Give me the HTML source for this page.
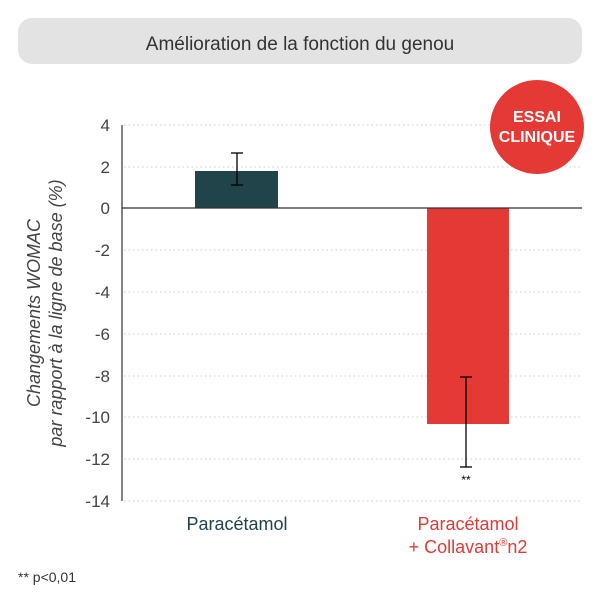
<!DOCTYPE html>
<html><head><meta charset="utf-8"><style>
body{margin:0;width:600px;height:600px;background:#fff;overflow:hidden;font-family:"Liberation Sans","DejaVu Sans",sans-serif}
</style></head><body>
<svg width="600" height="600" xmlns="http://www.w3.org/2000/svg" font-family="Liberation Sans, DejaVu Sans, sans-serif">
<rect x="18" y="18" width="564" height="46" rx="14" fill="#e3e3e3"/>
<text x="300" y="50" text-anchor="middle" font-size="19" fill="#333">Amélioration de la fonction du genou</text>
<g stroke="#ccc" stroke-dasharray="1.5 3" stroke-width="1">
<line x1="124" y1="125" x2="580" y2="125"/><line x1="124" y1="167" x2="580" y2="167"/>
<line x1="124" y1="250" x2="580" y2="250"/><line x1="124" y1="292" x2="580" y2="292"/>
<line x1="124" y1="334" x2="580" y2="334"/><line x1="124" y1="376" x2="580" y2="376"/>
<line x1="124" y1="417" x2="580" y2="417"/><line x1="124" y1="459" x2="580" y2="459"/>
<line x1="124" y1="501" x2="580" y2="501"/>
</g>
<rect x="195" y="171" width="83" height="37" fill="#21434a"/>
<rect x="427" y="208" width="82" height="216" fill="#e53935"/>
<line x1="122" y1="208" x2="582" y2="208" stroke="#333" stroke-width="1.2"/>
<line x1="122" y1="125" x2="122" y2="501" stroke="#333" stroke-width="1.2"/>
<g stroke="#000" stroke-width="1.3">
<line x1="237" y1="153" x2="237" y2="185"/><line x1="231" y1="153" x2="243" y2="153"/><line x1="231" y1="185" x2="243" y2="185"/>
<line x1="466" y1="377" x2="466" y2="467"/><line x1="460" y1="377" x2="472" y2="377"/><line x1="460" y1="467" x2="472" y2="467"/>
</g>
<circle cx="537" cy="127" r="47" fill="#e53935"/>
<text x="537" y="122" text-anchor="middle" font-size="16" font-weight="bold" fill="#fff">ESSAI</text>
<text x="537" y="142" text-anchor="middle" font-size="16" font-weight="bold" fill="#fff">CLINIQUE</text>
<text x="466" y="484" text-anchor="middle" font-size="12" fill="#000">**</text>
<g font-size="17" fill="#444" text-anchor="end">
<text x="110" y="131">4</text><text x="110" y="173">2</text><text x="110" y="214">0</text>
<text x="110" y="256">-2</text><text x="110" y="298">-4</text><text x="110" y="340">-6</text>
<text x="110" y="382">-8</text><text x="110" y="423">-10</text><text x="110" y="465">-12</text>
<text x="110" y="507">-14</text>
</g>
<g transform="translate(40,313) rotate(-90)" text-anchor="middle" font-size="18" font-style="italic" fill="#444">
<text x="0" y="0">Changements WOMAC</text>
<text x="0" y="22">par rapport à la ligne de base (%)</text>
</g>
<text x="237" y="530" text-anchor="middle" font-size="18" fill="#21434a">Paracétamol</text>
<text x="468" y="530" text-anchor="middle" font-size="18" fill="#e53935">Paracétamol</text>
<text x="468" y="553" text-anchor="middle" font-size="18" fill="#e53935">+ Collavant<tspan font-size="11" dy="-7">®</tspan><tspan dy="7">n2</tspan></text>
<text x="18" y="582" font-size="14" fill="#333">** p&lt;0,01</text>
</svg>
</body></html>
